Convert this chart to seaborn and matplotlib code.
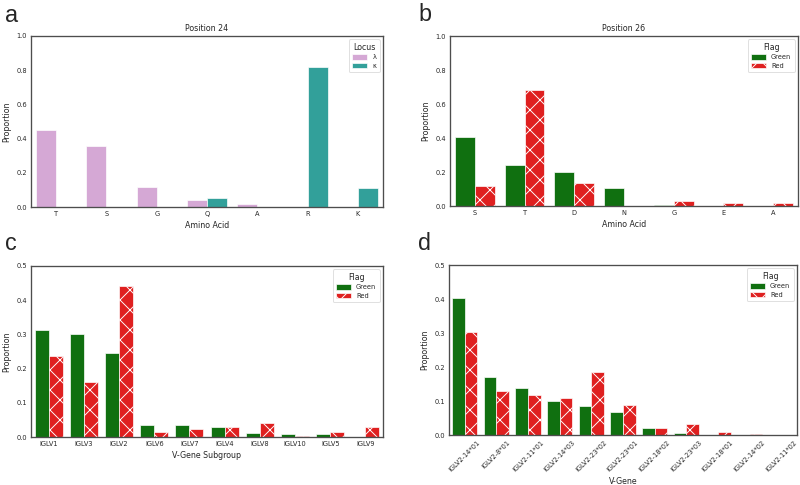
import matplotlib
matplotlib.use("Agg")
import matplotlib.pyplot as plt
import seaborn as sns
import pandas as pd
from matplotlib.patches import Patch

# ---------------- data ----------------
pos24_aa = ["T", "S", "G", "Q", "A", "R", "K"]
pos24_lambda = [0.450, 0.355, 0.118, 0.040, 0.018, 0.0, 0.0]
pos24_kappa = [0.0, 0.0, 0.0, 0.050, 0.0, 0.820, 0.113]

pos26_aa = ["S", "T", "D", "N", "G", "E", "A"]
pos26_green = [0.405, 0.240, 0.200, 0.103, 0.007, 0.0, 0.0]
pos26_red = [0.118, 0.680, 0.137, 0.0, 0.027, 0.018, 0.018]

subgroups = ["IGLV1", "IGLV3", "IGLV2", "IGLV6", "IGLV7", "IGLV4", "IGLV8",
             "IGLV10", "IGLV5", "IGLV9"]
sub_green = [0.312, 0.302, 0.246, 0.036, 0.034, 0.028, 0.012, 0.010, 0.008, 0.0]
sub_red = [0.237, 0.162, 0.442, 0.015, 0.023, 0.029, 0.042, 0.004, 0.016, 0.029]

vgenes = ["IGLV2-14*01", "IGLV2-8*01", "IGLV2-11*01", "IGLV2-14*03", "IGLV2-23*02",
          "IGLV2-23*01", "IGLV2-18*02", "IGLV2-23*03", "IGLV2-18*01", "IGLV2-14*02",
          "IGLV2-11*02"]
vg_green = [0.403, 0.170, 0.137, 0.099, 0.084, 0.068, 0.021, 0.005, 0.001, 0.0, 0.0]
vg_red = [0.302, 0.130, 0.117, 0.109, 0.184, 0.088, 0.021, 0.033, 0.008, 0.004, 0.0]

# ---------------- style ----------------
sns.set_theme(style="white")
plt.rcParams["font.family"] = ["DejaVu Sans"]
plt.rcParams["hatch.linewidth"] = 0.55
plt.rcParams["axes.edgecolor"] = "0.3"
plt.rcParams["axes.linewidth"] = 0.8

DPI = 120
TICK = 4.0
LAB = 4.7
LEG = 4.0

fig = plt.figure(figsize=(800 / DPI, 485 / DPI), dpi=DPI)


def long_df(cats, a, b, na, nb, key):
    return pd.DataFrame({
        "cat": list(cats) * 2,
        "val": list(a) + list(b),
        key: [na] * len(cats) + [nb] * len(cats),
    })


def draw(rect, df, key, order, palette, title, xlabel, ylim, yticks, legend_title,
         hatch_second, rotate=False):
    ax = fig.add_axes(rect)
    sns.barplot(data=df, x="cat", y="val", hue=key, order=order,
                hue_order=list(palette.keys()), palette=palette, ax=ax,
                errorbar=None, legend=False)
    cols = list(palette.keys())
    for i, cont in enumerate(ax.containers):
        for p in cont.patches:
            p.set_edgecolor("white")
            p.set_linewidth(0.4)
            if hatch_second and i == 1:
                p.set_hatch("xx")
    ax.set_ylim(*ylim)
    ax.set_yticks(yticks)
    ax.set_yticklabels([f"{t:.1f}" for t in yticks])
    ax.tick_params(axis="both", labelsize=TICK, pad=2.5, length=0)
    ax.set_xlabel(xlabel, fontsize=LAB, labelpad=2.5)
    ax.set_ylabel("Proportion", fontsize=LAB, labelpad=3)
    if title:
        ax.set_title(title, fontsize=LAB, pad=3)
    if rotate:
        for lab in ax.get_xticklabels():
            lab.set_rotation(45)
            lab.set_ha("center")
    handles = []
    for i, c in enumerate(cols):
        handles.append(Patch(facecolor=ax.containers[i].patches[0].get_facecolor(),
                             edgecolor="white", linewidth=0.4,
                             hatch=("xx" if (hatch_second and i == 1) else None),
                             label=c))
    leg = ax.legend(handles=handles, title=legend_title, loc="upper right",
                    fontsize=LEG, title_fontsize=LAB, frameon=True,
                    handlelength=2.2, handleheight=0.8, borderpad=0.5,
                    labelspacing=0.4)
    leg.get_frame().set_edgecolor("0.85")
    leg.get_frame().set_linewidth(0.6)
    return ax


# Panel a
df_a = long_df(pos24_aa, pos24_lambda, pos24_kappa, "λ", "κ", "Locus")
draw([31 / 800, 1 - 207 / 485, 352 / 800, 171 / 485], df_a, "Locus", pos24_aa,
     {"λ": "plum", "κ": "lightseagreen"}, "Position 24", "Amino Acid",
     (0, 1.0), [0.0, 0.2, 0.4, 0.6, 0.8, 1.0], "Locus", False)

# Panel b
df_b = long_df(pos26_aa, pos26_green, pos26_red, "Green", "Red", "Flag")
draw([450 / 800, 1 - 206 / 485, 348 / 800, 170 / 485], df_b, "Flag", pos26_aa,
     {"Green": "green", "Red": "red"}, "Position 26", "Amino Acid",
     (0, 1.0), [0.0, 0.2, 0.4, 0.6, 0.8, 1.0], "Flag", True)

# Panel c
df_c = long_df(subgroups, sub_green, sub_red, "Green", "Red", "Flag")
draw([31 / 800, 1 - 437 / 485, 352 / 800, 171 / 485], df_c, "Flag", subgroups,
     {"Green": "green", "Red": "red"}, None, "V-Gene Subgroup",
     (0, 0.5), [0.0, 0.1, 0.2, 0.3, 0.4, 0.5], "Flag", True)

# Panel d
df_d = long_df(vgenes, vg_green, vg_red, "Green", "Red", "Flag")
draw([449 / 800, 1 - 435 / 485, 348 / 800, 170 / 485], df_d, "Flag", vgenes,
     {"Green": "green", "Red": "red"}, None, "V-Gene",
     (0, 0.5), [0.0, 0.1, 0.2, 0.3, 0.4, 0.5], "Flag", True, rotate=True)

# Panel letters
for s, x, y in [("a", 5, 4), ("b", 418, 3), ("c", 5, 232), ("d", 418, 232)]:
    fig.text(x / 800, 1 - y / 485, s, fontsize=14,
             family=["Liberation Sans", "DejaVu Sans"], ha="left", va="top")

fig.savefig("out.png", dpi=DPI)
